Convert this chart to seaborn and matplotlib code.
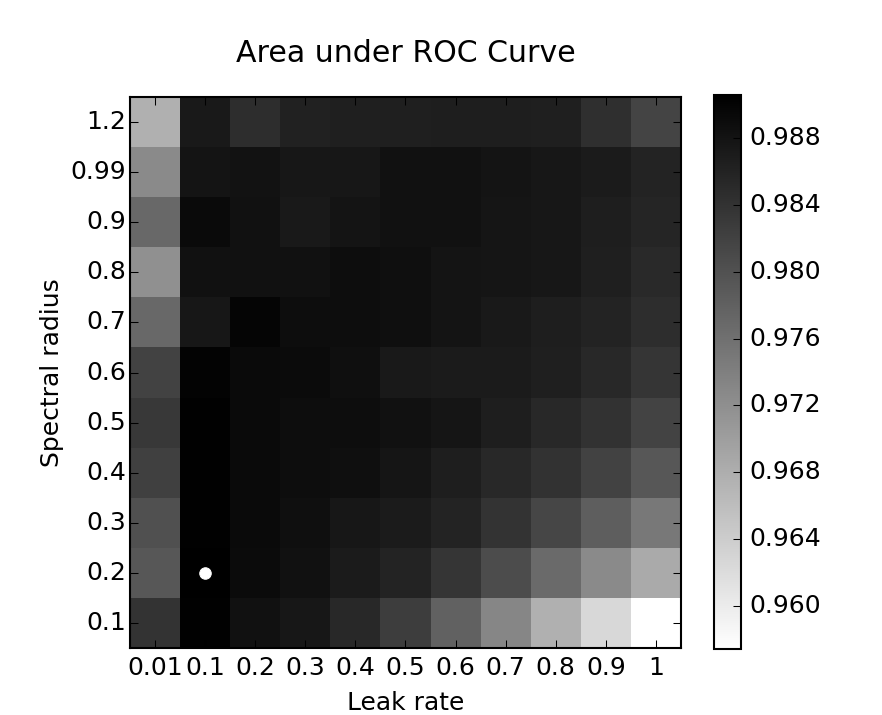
import numpy as np
import pandas as pd
import seaborn as sns
import matplotlib as mpl
mpl.use("Agg")
import matplotlib.pyplot as plt

leak_rates = ['0.01', '0.1', '0.2', '0.3', '0.4', '0.5', '0.6', '0.7', '0.8', '0.9', '1']
spectral_radii = ['1.2', '0.99', '0.9', '0.8', '0.7', '0.6', '0.5', '0.4', '0.3', '0.2', '0.1']

# AUC per (spectral radius, leak rate), rows top -> bottom
auc_12  = [0.9677, 0.9873, 0.9847, 0.9862, 0.9865, 0.9865, 0.9867, 0.9867, 0.9865, 0.9844, 0.9817]
auc_099 = [0.9727, 0.9880, 0.9882, 0.9875, 0.9875, 0.9883, 0.9883, 0.9880, 0.9875, 0.9870, 0.9860]
auc_09  = [0.9771, 0.9893, 0.9883, 0.9873, 0.9880, 0.9883, 0.9883, 0.9878, 0.9875, 0.9867, 0.9857]
auc_08  = [0.9719, 0.9883, 0.9883, 0.9883, 0.9888, 0.9886, 0.9880, 0.9878, 0.9875, 0.9865, 0.9852]
auc_07  = [0.9771, 0.9875, 0.9899, 0.9888, 0.9888, 0.9886, 0.9880, 0.9873, 0.9867, 0.9860, 0.9847]
auc_06  = [0.9820, 0.9901, 0.9893, 0.9891, 0.9886, 0.9873, 0.9870, 0.9870, 0.9865, 0.9854, 0.9836]
auc_05  = [0.9833, 0.9904, 0.9893, 0.9888, 0.9888, 0.9883, 0.9878, 0.9867, 0.9854, 0.9841, 0.9818]
auc_04  = [0.9823, 0.9904, 0.9893, 0.9888, 0.9886, 0.9878, 0.9867, 0.9854, 0.9841, 0.9820, 0.9792]
auc_03  = [0.9802, 0.9904, 0.9893, 0.9886, 0.9875, 0.9870, 0.9860, 0.9839, 0.9815, 0.9784, 0.9750]
auc_02  = [0.9792, 0.9906, 0.9891, 0.9883, 0.9870, 0.9860, 0.9836, 0.9807, 0.9768, 0.9727, 0.9685]
auc_01  = [0.9839, 0.9904, 0.9883, 0.9875, 0.9854, 0.9826, 0.9779, 0.9732, 0.9677, 0.9625, 0.9574]

cbar_ticks = [0.960, 0.964, 0.968, 0.972, 0.976, 0.980, 0.984, 0.988]

mpl.style.use('classic')
mpl.rcParams['font.family'] = ['DejaVu Sans']

auc = pd.DataFrame([auc_12, auc_099, auc_09, auc_08, auc_07, auc_06,
                    auc_05, auc_04, auc_03, auc_02, auc_01],
                   index=spectral_radii, columns=leak_rates)

fig = plt.figure(figsize=(5.88, 4.7667), dpi=150)
fig.patch.set_facecolor('white')
ax = fig.add_axes([0.1474, 0.0937, 0.6247, 0.7706])
cax = fig.add_axes([0.8095, 0.0923, 0.0306, 0.7748])

sns.heatmap(auc, cmap='gray_r', ax=ax, cbar_ax=cax, linewidths=0,
            cbar_kws={'ticks': cbar_ticks, 'format': '%.3f'})

# best parameter combination
r, c = np.unravel_index(np.argmax(auc.values), auc.shape)
ax.plot(c + 0.5, r + 0.5, 'o', color='white', markeredgecolor='white', markersize=5.5)

for sp in ax.spines.values():
    sp.set_visible(True)
    sp.set_linewidth(1.0)
    sp.set_color('black')
ax.tick_params(direction='in', length=4, top=True, right=True, labelsize=12)
ax.tick_params(axis='y', pad=2)
ax.tick_params(axis='x', pad=4)
ax.set_yticklabels(spectral_radii, rotation=0)
ax.set_xticklabels(leak_rates, rotation=0)
ax.set_xlabel('Leak rate', fontsize=12)
ax.set_ylabel('Spectral radius', fontsize=12, labelpad=3)
ax.set_title('Area under ROC Curve', fontsize=14.4, pad=17)

cax.tick_params(direction='in', length=4, labelsize=12)
cax.yaxis.set_ticks_position('right')
cbar = ax.collections[0].colorbar
cbar.outline.set_edgecolor('black')
cbar.outline.set_linewidth(1.0)

fig.savefig('out.png', dpi=150)
